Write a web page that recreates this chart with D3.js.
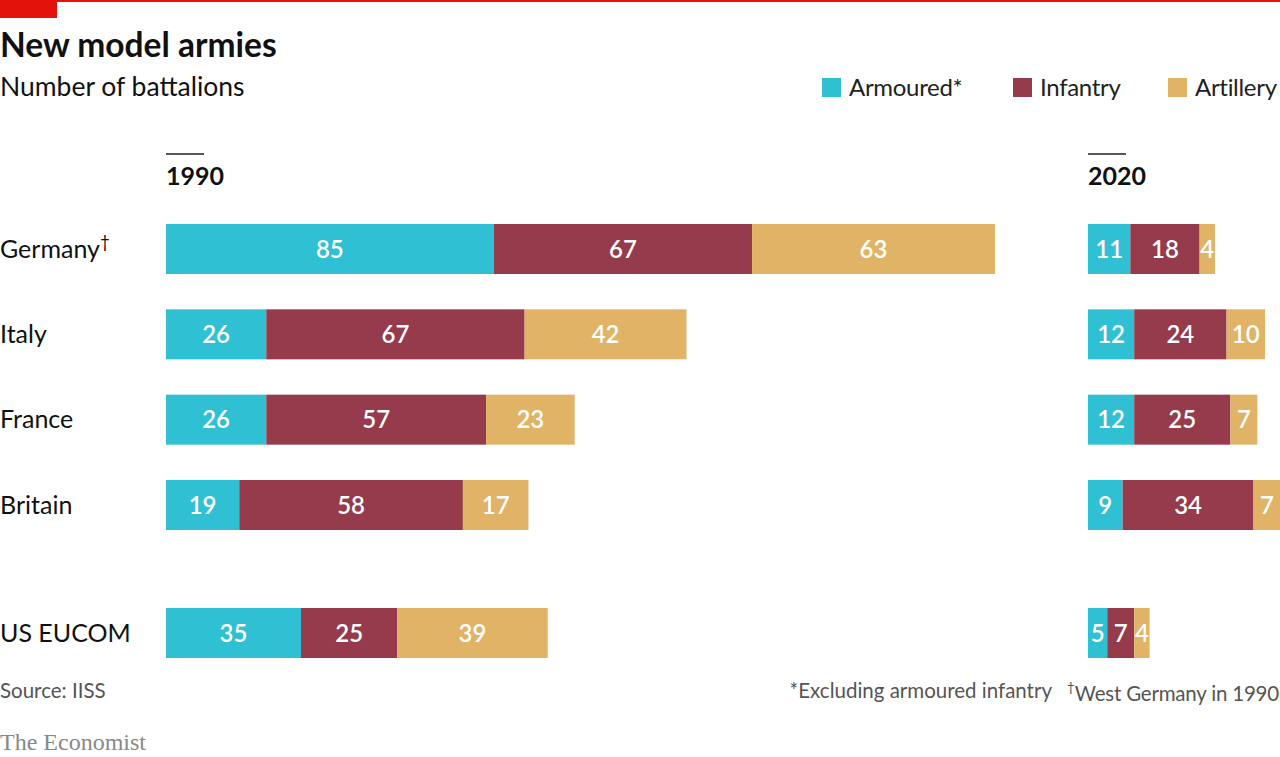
<!DOCTYPE html>
<html>
<head>
<meta charset="utf-8">
<script src="https://cdn.jsdelivr.net/npm/d3@7"></script>
<style>
  body { margin: 0; background: #fff; }
  svg { display: block; font-family: Lato, "Noto Sans", sans-serif; }
</style>
</head>
<body>
<script>
const countries = ["Germany", "Italy", "France", "Britain", "US EUCOM"]
const rowSlot = [0, 1, 2, 3, 4.5]   // US EUCOM sits a little further down
const seriesNames = ["Armoured*", "Infantry", "Artillery"]
const armoured1990 = [85, 26, 26, 19, 35]
const infantry1990 = [67, 67, 57, 58, 25]
const artillery1990 = [63, 42, 23, 17, 39]
const armoured2020 = [11, 12, 12, 9, 5]
const infantry2020 = [18, 24, 25, 34, 7]
const artillery2020 = [4, 10, 7, 7, 4]
const colors = ["#30c0d4", "#963b4c", "#e1b366"]

const width = 1280, height = 757

const svg = d3.select("body").append("svg")
  .attr("width", width)
  .attr("height", height)

// red header bits
svg.append("rect").attr("x", 0).attr("y", 0).attr("width", width).attr("height", 2).attr("fill", "#e3120b")
svg.append("rect").attr("x", 0).attr("y", 0).attr("width", 57).attr("height", 18).attr("fill", "#e3120b")

svg.append("text")
  .attr("x", 0).attr("y", 57)
  .style("font", "bold 33.5px Lato, sans-serif")
  .attr("fill", "#111")
  .text("New model armies")

svg.append("text")
  .attr("x", 0).attr("y", 96)
  .style("font", "26.5px Lato, sans-serif")
  .attr("fill", "#111")
  .text("Number of battalions")

// legend
const legendX = [822, 1013, 1168]
const legend = svg.append("g")
seriesNames.forEach((name, i) => {
  legend.append("rect")
    .attr("x", legendX[i]).attr("y", 78)
    .attr("width", 19).attr("height", 19)
    .attr("fill", colors[i])
  legend.append("text")
    .attr("x", legendX[i] + 27).attr("y", 96)
    .style("font", "24px Lato, sans-serif")
    .style("letter-spacing", "-0.3px")
    .attr("fill", "#222")
    .text(name)
})

// scales
const y = d3.scaleLinear().domain([0, 4.5]).range([249, 633])
const barH = 50
const x1990 = d3.scaleLinear().domain([0, 215]).range([166, 995])
const x2020 = d3.scaleLinear().domain([0, 33]).range([1088, 1215])

// country labels
const labels = svg.append("g")
countries.forEach((c, i) => {
  const t = labels.append("text")
    .attr("x", 0).attr("y", y(rowSlot[i]))
    .attr("dy", "0.35em")
    .style("font", "25px Lato, sans-serif")
    .attr("fill", "#111")
    .text(c)
  if (c === "Germany") {
    t.append("tspan").attr("dy", "-0.55em").style("font-size", "17px").text("†")
  }
})

function drawPanel(x, year, series) {
  const g = svg.append("g")
  const x0 = x.range()[0]
  g.append("line")
    .attr("x1", x0).attr("x2", x0 + 38)
    .attr("y1", 154).attr("y2", 154)
    .attr("stroke", "#222").attr("stroke-width", 1.5)
  g.append("text")
    .attr("x", x0).attr("y", 185)
    .style("font", "bold 25px Lato, sans-serif")
    .attr("fill", "#111")
    .text(year)

  const rows = countries.map((c, i) => {
    const row = {country: c, slot: rowSlot[i]}
    seriesNames.forEach((s, k) => row[s] = series[k][i])
    return row
  })
  const stacked = d3.stack().keys(seriesNames)(rows)

  stacked.forEach((layer, k) => {
    const lg = g.append("g")
    lg.selectAll("rect")
      .data(layer)
      .join("rect")
      .attr("x", d => x(d[0]))
      .attr("y", d => y(d.data.slot) - barH / 2)
      .attr("width", d => x(d[1]) - x(d[0]))
      .attr("height", barH)
      .attr("fill", colors[k])
    lg.selectAll("text")
      .data(layer)
      .join("text")
      .attr("x", d => (x(d[0]) + x(d[1])) / 2)
      .attr("y", d => y(d.data.slot))
      .attr("dy", "0.36em")
      .attr("text-anchor", "middle")
      .style("font", "600 24px Lato, sans-serif")
      .attr("fill", "#fff")
      .text(d => d[1] - d[0])
  })
}

drawPanel(x1990, "1990", [armoured1990, infantry1990, artillery1990])
drawPanel(x2020, "2020", [armoured2020, infantry2020, artillery2020])

// footer
const foot = svg.append("g").style("font", "20.5px Lato, sans-serif").attr("fill", "#555")
foot.append("text").attr("x", 0).attr("y", 698).text("Source: IISS")
foot.append("text").attr("x", 1052).attr("y", 698).attr("text-anchor", "end").text("*Excluding armoured infantry")
const wg = foot.append("text").attr("x", 1279).attr("y", 698).attr("text-anchor", "end")
  .style("letter-spacing", "-0.2px")
wg.append("tspan").attr("dy", "-0.45em").style("font-size", "14px").text("†")
wg.append("tspan").attr("dy", "0.45em").text("West Germany in 1990")

svg.append("text")
  .attr("x", 0).attr("y", 750)
  .style("font", "24px 'Liberation Serif', serif")
  .attr("fill", "#888")
  .text("The Economist")
</script>
</body>
</html>
